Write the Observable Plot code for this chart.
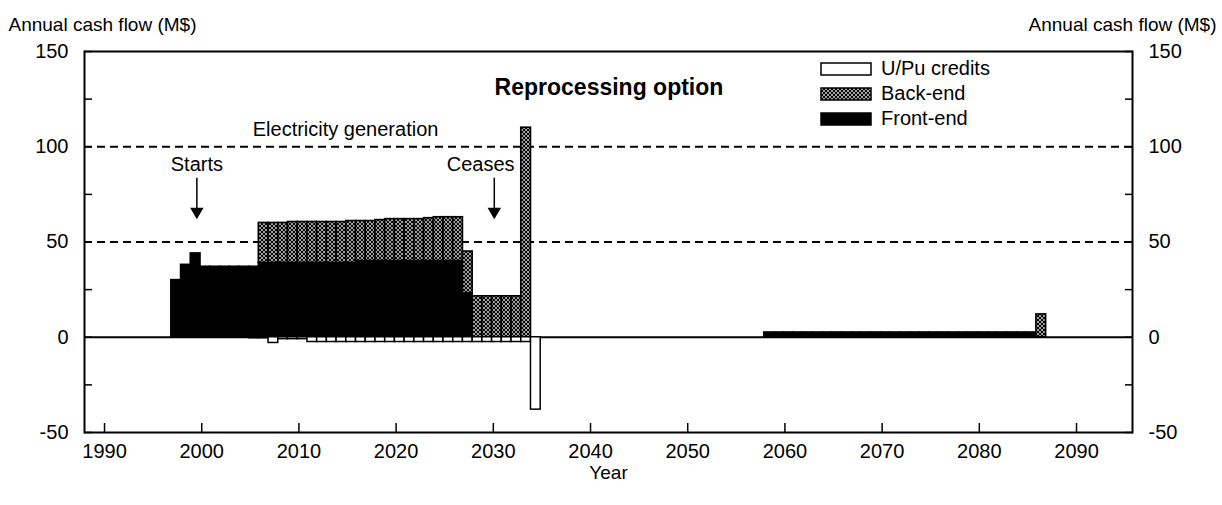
<!DOCTYPE html>
<html><head><meta charset="utf-8">
<script src="https://cdn.jsdelivr.net/npm/d3@7"></script>
<script src="https://cdn.jsdelivr.net/npm/@observablehq/plot@0.6"></script>
<style>
body{margin:0;background:#fff;}
#wrap{position:relative;width:1222px;height:505px;font-family:"Liberation Sans",Arial,sans-serif;color:#000;}
#legend{position:absolute;left:820px;top:56px;font-size:20px;}
.item{display:flex;align-items:center;height:25px;}
.item svg{margin-right:9px;display:block;}
</style></head><body><div id="wrap"><div id="legend"></div></div>
<script>
// ---- data ----
const years = [1997,1998,1999,2000,2001,2002,2003,2004,2005,2006,2007,2008,2009,2010,2011,2012,2013,2014,2015,2016,2017,2018,2019,2020,2021,2022,2023,2024,2025,2026,2027,2028,2029,2030,2031,2032,2033,2034];
const frontEnd = [30,38,44,37,37,37,37,37,37,39,39,39,39,39,39,39,39,39,39,40,40,40,40,40,40,40,40,40,40,40,23,0,0,0,0,0,0,0];
const backEnd  = [0,0,0,0,0,0,0,0,0,21,21,21,21.5,21.5,21.5,21.5,21.5,21.5,22,21,21,21.5,22,22,22,22,22.5,23,23,23,22,21.5,21.5,21.5,21.5,21.5,110,0];
const credits  = [0,0,0,0,0,0,0,0,-0.5,-0.5,-3,-1,-1,-1,-2.5,-2.5,-2.5,-2.5,-2.5,-2.5,-2.5,-2.5,-2.5,-2.5,-2.5,-2.5,-2.5,-2.5,-2.5,-2.5,-2.5,-2.5,-2.5,-2.5,-2.5,-2.5,-2.5,-38];
const lateYears = [2058,2059,2060,2061,2062,2063,2064,2065,2066,2067,2068,2069,2070,2071,2072,2073,2074,2075,2076,2077,2078,2079,2080,2081,2082,2083,2084,2085,2086];
const lateFront = [2.5,2.5,2.5,2.5,2.5,2.5,2.5,2.5,2.5,2.5,2.5,2.5,2.5,2.5,2.5,2.5,2.5,2.5,2.5,2.5,2.5,2.5,2.5,2.5,2.5,2.5,2.5,2.5,0];
const lateBack  = [0,0,0,0,0,0,0,0,0,0,0,0,0,0,0,0,0,0,0,0,0,0,0,0,0,0,0,0,12];
const xTicks = [1990,2000,2010,2020,2030,2040,2050,2060,2070,2080,2090];
const yLabels = [-50,0,50,100,150];
const yTicks = [-50,-25,0,25,50,75,100,125,150];
const refLines = [50,100];
const legendItems = ["U/Pu credits","Back-end","Front-end"];

// ---- tables ----
const rows = years.map((year,i)=>({year, front:frontEnd[i], back:backEnd[i], credit:credits[i]}))
  .concat(lateYears.map((year,i)=>({year, front:lateFront[i], back:lateBack[i], credit:0})));
const x1 = d => d.year - 0.125, x2 = d => d.year + 0.875;
const fronts = rows.filter(d=>d.front>0);
const backs = rows.filter(d=>d.back>0);
const creds = rows.filter(d=>d.credit<0);

const notes = [
  {x:2041.9, y:130.9, text:"Reprocessing option", bold:true},
  {x:2014.8, y:108.8, text:"Electricity generation"},
  {x:1999.5, y:90.4, text:"Starts"},
  {x:2028.7, y:90.4, text:"Ceases"}
];
const arrows = [{x:1999.5, y1:83.5, y2:66}, {x:2030.1, y1:83.5, y2:66}];

const chart = Plot.plot({
  width:1222, height:505,
  marginLeft:84, marginRight:90, marginTop:51, marginBottom:73,
  x:{domain:[1987.94,2095.76]},
  y:{domain:[-50,150]},
  style:{fontFamily:"'Liberation Sans', Arial, sans-serif", fontSize:"20px", color:"#000", background:"#fff", overflow:"visible"},
  marks:[
    Plot.ruleY(refLines, {strokeDasharray:"8,5", strokeWidth:2}),
    Plot.ruleY([0], {strokeWidth:2}),
    Plot.rect(fronts, {x1, x2, y1:0, y2:d=>d.front, fill:"#000", stroke:"#000", strokeWidth:1.6}),
    Plot.rect(backs, {x1, x2, y1:d=>d.front, y2:d=>d.front+d.back, fill:"url(#backend)", stroke:"#000", strokeWidth:1.6}),
    Plot.rect(creds, {x1, x2, y1:0, y2:d=>d.credit, fill:"#fff", stroke:"#000", strokeWidth:1.5}),
    Plot.frame({strokeWidth:2}),
    Plot.axisY({anchor:"left", ticks:yTicks, tickSize:-8, fill:"none", strokeWidth:1.5}),
    Plot.axisY({anchor:"right", ticks:yTicks, tickSize:-8, fill:"none", strokeWidth:1.5}),
    Plot.axisY({anchor:"left", ticks:yLabels, tickSize:0, tickPadding:16, tickFormat:d=>String(d), fontSize:20, label:null}),
    Plot.axisY({anchor:"right", ticks:yLabels, tickSize:0, tickPadding:16, tickFormat:d=>String(d), fontSize:20, label:null}),
    Plot.axisX({anchor:"bottom", ticks:xTicks, tickSize:-9, fill:"none", strokeWidth:1.5}),
    Plot.axisX({anchor:"bottom", ticks:xTicks, tickSize:0, tickPadding:11, tickFormat:d=>String(d), fontSize:20, label:null}),
    Plot.text(["Year"], {frameAnchor:"bottom", dy:46, fontSize:19}),
    Plot.text(["Annual cash flow (M$)"], {frameAnchor:"top-left", dx:-76, dy:-34, textAnchor:"start", fontSize:19}),
    Plot.text(["Annual cash flow (M$)"], {frameAnchor:"top-right", dx:84, dy:-34, textAnchor:"end", fontSize:19}),
    Plot.text(notes.filter(d=>!d.bold), {x:"x", y:"y", text:"text", fontSize:20}),
    Plot.text(notes.filter(d=>d.bold), {x:"x", y:"y", text:"text", fontSize:23, fontWeight:"bold"}),
    Plot.ruleX(arrows, {x:"x", y1:"y1", y2:"y2", strokeWidth:1.5}),
    Plot.dot(arrows, {x:"x", y:"y2", symbol:"triangle", rotate:180, r:5, fill:"#000", stroke:"none"})
  ]
});

d3.select(chart).insert("defs", ":first-child").html(`
  <pattern id="backend" width="4" height="4" patternUnits="userSpaceOnUse">
    <rect width="4" height="4" fill="#0a0a0a"/>
    <path d="M0,0L4,4M4,0L0,4" stroke="#c4c4c4" stroke-width="0.8"/>
  </pattern>`);

document.getElementById("wrap").prepend(chart);

const legend = d3.select("#legend");
const swatch = [
  {fill:"#fff", stroke:"#000"},
  {fill:"url(#backend)", stroke:"#000"},
  {fill:"#000", stroke:"#000"}
];
legendItems.forEach((label,i)=>{
  const it = legend.append("div").attr("class","item");
  const s = it.append("svg").attr("width",52).attr("height",14);
  s.append("rect").attr("x",1).attr("y",1).attr("width",50).attr("height",12)
    .attr("fill",swatch[i].fill).attr("stroke",swatch[i].stroke).attr("stroke-width",1.5);
  it.append("span").text(label);
});
</script>
</body></html>
